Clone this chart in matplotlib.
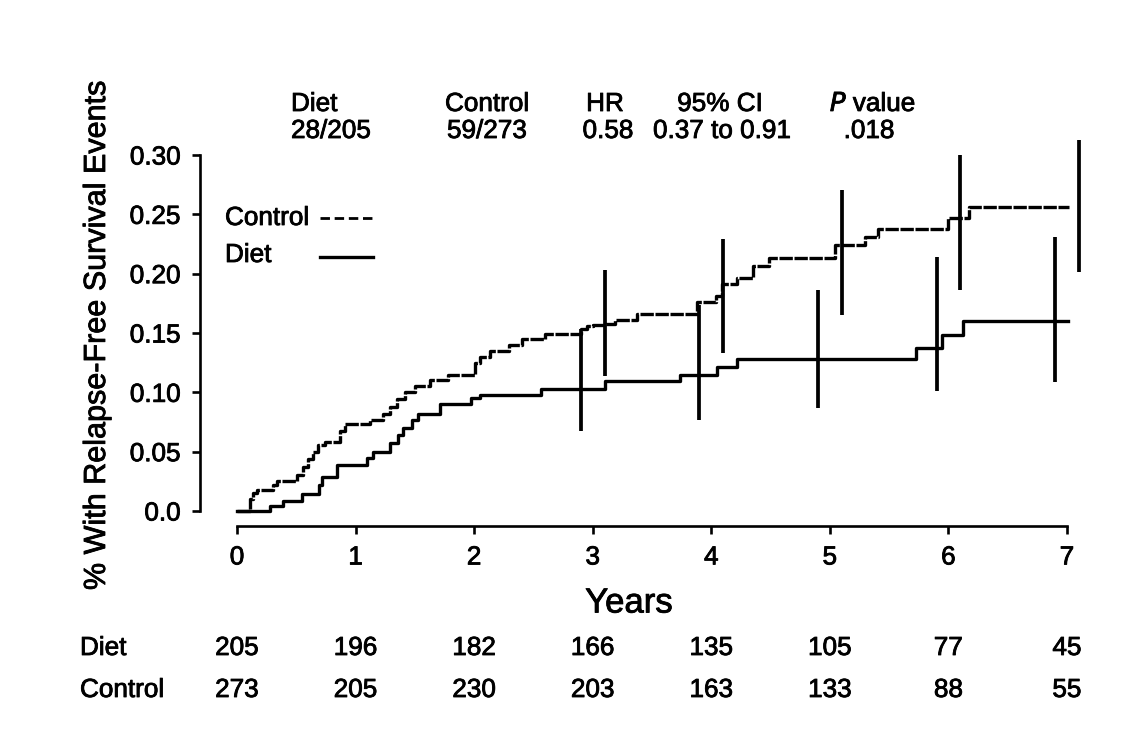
import matplotlib
matplotlib.use("Agg")
import matplotlib.pyplot as plt
import matplotlib.patheffects as pe

plt.rcParams["font.family"] = ["Liberation Sans", "DejaVu Sans"]

# Kaplan-Meier style step curves (years, cumulative event proportion)
control_t = [0, 0.11, 0.135, 0.17, 0.30, 0.34, 0.51, 0.56, 0.60, 0.64, 0.68, 0.74,
             0.87, 0.91, 1.12, 1.23, 1.29, 1.35, 1.42, 1.50, 1.63, 1.78, 2.01, 2.05,
             2.13, 2.29, 2.40, 2.60, 2.90, 2.95, 3.00, 3.10, 3.19, 3.37, 3.88, 4.04,
             4.09, 4.22, 4.35, 4.49, 5.04, 5.30, 5.41, 6.00, 6.17, 7.02]
control_p = [0, 0.010, 0.015, 0.018, 0.022, 0.025, 0.030, 0.037, 0.044, 0.050, 0.0556, 0.058,
             0.067, 0.073, 0.077, 0.082, 0.088, 0.094, 0.100, 0.105, 0.110, 0.115, 0.125, 0.130,
             0.135, 0.140, 0.145, 0.149, 0.153, 0.156, 0.157, 0.158, 0.161, 0.166, 0.176, 0.181,
             0.191, 0.196, 0.2065, 0.213, 0.224, 0.231, 0.238, 0.247, 0.256, 0.256]

diet_t = [0, 0.28, 0.39, 0.55, 0.69, 0.72, 0.84, 1.10, 1.15, 1.29, 1.36, 1.40, 1.48,
          1.53, 1.71, 1.97, 2.05, 2.56, 3.10, 3.74, 4.05, 4.22, 5.73, 5.95, 6.12, 7.01]
diet_p = [0, 0.004, 0.0087, 0.0143, 0.022, 0.029, 0.0388, 0.0447, 0.050, 0.057, 0.064, 0.0697, 0.0767,
          0.082, 0.090, 0.095, 0.098, 0.1025, 0.1095, 0.1146, 0.121, 0.128, 0.137, 0.148, 0.160, 0.160]

# confidence interval bars
diet_ci_t = [2.9, 3.9, 4.9, 5.9, 6.9]
diet_ci_lo = [0.067, 0.077, 0.0865, 0.101, 0.109]
diet_ci_hi = [0.153, 0.174, 0.186, 0.214, 0.231]
control_ci_t = [3.1, 4.1, 5.1, 6.1, 7.1]
control_ci_lo = [0.114, 0.133, 0.165, 0.186, 0.201]
control_ci_hi = [0.203, 0.229, 0.2705, 0.300, 0.313]

# numbers at risk
years = [0, 1, 2, 3, 4, 5, 6, 7]
diet_at_risk = [205, 196, 182, 166, 135, 105, 77, 45]
control_at_risk = [273, 205, 230, 203, 163, 133, 88, 55]

W, H = 1134, 731
FS = 18.8


def fx(x):
    return x / W


def fy(y):
    return 1 - y / H


fig = plt.figure(figsize=(W / 100, H / 100), dpi=100)
ax = fig.add_axes([fx(237), fy(511), 853.7 / W, 356 / H])
ax.set_xlim(0, 7.2)
ax.set_ylim(0, 0.30)

ax.step(control_t, control_p, where="post", color="black", lw=2.4,
        dashes=(4, 0.5), clip_on=False)
ax.step(diet_t, diet_p, where="post", color="black", lw=2.4, clip_on=False)
ax.vlines(diet_ci_t, diet_ci_lo, diet_ci_hi, color="black", lw=2.7, clip_on=False)
ax.vlines(control_ci_t, control_ci_lo, control_ci_hi, color="black", lw=2.7, clip_on=False)

# axes styling
for s in ["top", "right"]:
    ax.spines[s].set_visible(False)
ax.spines["left"].set_position(("outward", 26.6))
ax.spines["left"].set_bounds(0, 0.30)
ax.spines["bottom"].set_position(("outward", 10.8))
ax.spines["bottom"].set_bounds(0, 7)
ax.spines["left"].set_linewidth(1.9)
ax.spines["bottom"].set_linewidth(1.9)

ax.set_yticks([0, 0.05, 0.10, 0.15, 0.20, 0.25, 0.30])
ax.set_yticklabels(["0.0", "0.05", "0.10", "0.15", "0.20", "0.25", "0.30"])
ax.set_xticks(years)
ax.tick_params(axis="both", width=1.9, length=6, labelsize=FS)
ax.tick_params(axis="y", pad=8)
ax.tick_params(axis="x", pad=8)

fig.text(fx(97), fy(336), "% With Relapse-Free Survival Events", rotation=90,
         ha="center", va="center", fontsize=22)
fig.text(fx(629), fy(603), "Years", ha="center", va="center", fontsize=25)

# header statistics
fig.text(fx(291), fy(104), "Diet", ha="left", va="center", fontsize=FS)
fig.text(fx(291), fy(131), "28/205", ha="left", va="center", fontsize=FS)
fig.text(fx(445), fy(104), "Control", ha="left", va="center", fontsize=FS)
fig.text(fx(447), fy(131), "59/273", ha="left", va="center", fontsize=FS)
fig.text(fx(605), fy(104), "HR", ha="center", va="center", fontsize=FS)
fig.text(fx(608), fy(131), "0.58", ha="center", va="center", fontsize=FS)
fig.text(fx(720), fy(104), "95% CI", ha="center", va="center", fontsize=FS)
fig.text(fx(722), fy(131), "0.37 to 0.91", ha="center", va="center", fontsize=FS)
fig.text(fx(873), fy(104), r"$\it{P}$ value", ha="center", va="center", fontsize=FS)
fig.text(fx(869), fy(131), ".018", ha="center", va="center", fontsize=FS)

# legend
fig.text(fx(225), fy(218), "Control", ha="left", va="center", fontsize=FS)
fig.text(fx(225), fy(255), "Diet", ha="left", va="center", fontsize=FS)
fig.add_artist(plt.Line2D([fx(320), fx(373)], [fy(218), fy(218)], color="black",
                          lw=2.0, dashes=(3.4, 1.7), transform=fig.transFigure))
fig.add_artist(plt.Line2D([fx(320), fx(373)], [fy(257), fy(257)], color="black",
                          lw=2.4, transform=fig.transFigure))

# numbers at risk table
tr = matplotlib.transforms.blended_transform_factory(ax.transData, fig.transFigure)
fig.text(fx(80), fy(648), "Diet", ha="left", va="center", fontsize=FS)
fig.text(fx(80), fy(690), "Control", ha="left", va="center", fontsize=FS)
for yr, d, c in zip(years, diet_at_risk, control_at_risk):
    ax.text(yr, fy(648), str(d), transform=tr, ha="center", va="center", fontsize=FS)
    ax.text(yr, fy(690), str(c), transform=tr, ha="center", va="center", fontsize=FS)

# scanned print looks a little heavier than plain regular weight
heavy = [pe.withStroke(linewidth=0.6, foreground="black")]
for t in fig.texts + ax.texts + ax.get_xticklabels() + ax.get_yticklabels():
    t.set_path_effects(heavy)

fig.savefig("out.png", dpi=100)
